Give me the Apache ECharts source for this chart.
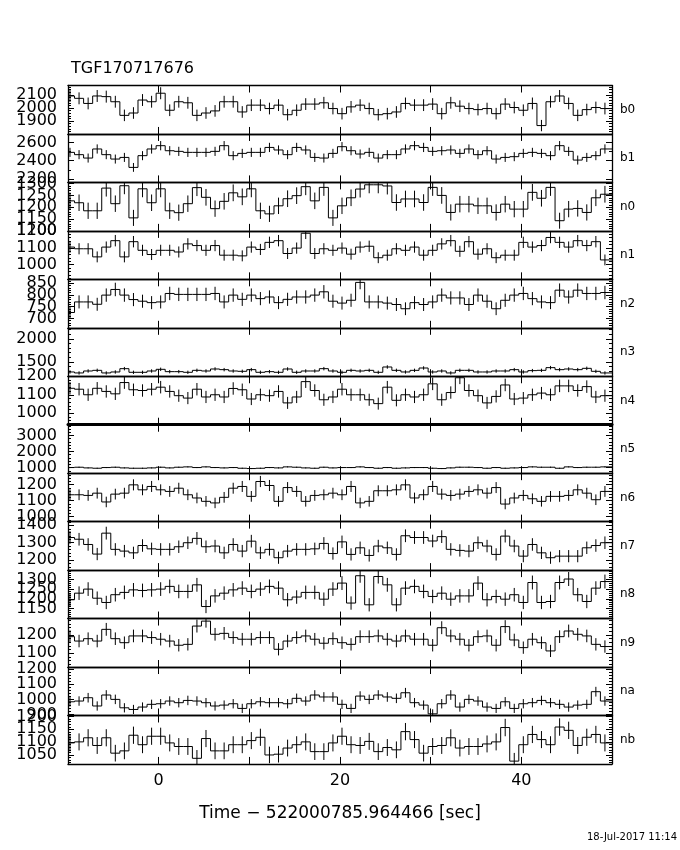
<!DOCTYPE html>
<html><head><meta charset="utf-8">
<script src="https://cdn.jsdelivr.net/npm/echarts@6/dist/echarts.min.js"></script>
<style>html,body{margin:0;padding:0;background:#fff}#c{width:680px;height:850px}</style>
</head><body><div id="c"></div>
<script>
// ---- data (counts per 1 s bin) ----
const binStart = -10.28;   // left edge of the first bin [s]
const binWidth = 1;        // [s]
const b0 = [2092,2074,2035,2092,2087,2048,1944,1962,2061,2048,2113,1983,2048,2040,1944,1962,1978,2048,2048,1970,2022,2022,1996,2022,1949,1983,2030,2030,2040,1996,
            1957,2009,2022,1996,1949,1957,1970,2035,2022,2022,2030,1957,2040,2014,1996,1988,1996,1957,2030,2004,1983,2035,1866,2048,2092,2035,1944,1988,2004,1996];
const b1 = [2491,2466,2429,2528,2466,2418,2436,2327,2455,2528,2564,2509,2502,2491,2491,2491,2502,2564,2455,2480,2491,2491,2545,2517,2466,2545,2517,2436,2429,2480,
            2553,2509,2473,2491,2429,2466,2466,2528,2564,2545,2502,2509,2517,2480,2528,2466,2509,2418,2436,2444,2480,2491,2480,2455,2564,2502,2407,2436,2455,2528];
const n0 = [1227,1219,1185,1185,1281,1215,1291,1155,1278,1219,1278,1185,1177,1215,1283,1242,1194,1225,1261,1244,1278,1185,1172,1206,1236,1249,1287,1227,1284,1155,
            1206,1240,1277,1295,1295,1290,1220,1235,1235,1220,1284,1250,1178,1213,1213,1206,1206,1178,1213,1192,1192,1263,1238,1284,1143,1192,1195,1178,1240,1255];
const n1 = [1104,1094,1094,1046,1104,1142,1046,1136,1085,1060,1085,1085,1075,1123,1113,1085,1113,1056,1056,1052,1104,1090,1132,1142,1066,1098,1186,1066,1094,1085,
            1098,1062,1104,1109,1041,1056,1094,1085,1104,1056,1085,1123,1142,1079,1136,1062,1094,1041,1056,1056,1132,1104,1113,1161,1132,1104,1142,1113,1136,1028];
const n2 = [725,770,770,760,799,823,799,780,773,767,770,806,802,802,802,802,806,770,799,781,799,784,791,767,781,791,791,799,813,773,
            765,777,853,770,770,765,759,741,767,759,770,799,787,787,759,799,773,741,777,799,806,784,770,767,820,791,820,806,806,810];
const n3 = [1287,1266,1308,1322,1266,1287,1358,1280,1280,1308,1344,1294,1294,1280,1322,1308,1351,1337,1308,1301,1337,1280,1294,1280,1351,1280,1308,1308,1358,1308,
            1280,1322,1308,1322,1280,1394,1322,1287,1322,1372,1287,1308,1266,1322,1322,1287,1287,1308,1308,1337,1287,1316,1322,1380,1337,1351,1337,1365,1301,1266];
const n4 = [1135,1130,1100,1135,1118,1105,1166,1127,1123,1130,1141,1118,1095,1082,1130,1088,1100,1088,1134,1127,1077,1100,1095,1118,1056,1088,1171,1123,1073,1088,
            1130,1100,1100,1073,1052,1141,1070,1100,1088,1100,1159,1073,1112,1192,1123,1095,1056,1091,1153,1077,1082,1100,1109,1100,1148,1148,1123,1144,1088,1095];
const n5 = [1000,1021,979,958,1000,1021,979,958,958,979,1021,979,1021,1042,1000,1042,1000,979,1000,958,938,958,1000,979,1042,1021,979,958,1021,979,
            1000,1000,1042,1000,958,1000,958,979,1000,1000,958,938,979,1021,1021,1000,958,1000,958,979,1000,1042,1021,1021,958,1042,1000,1021,1021,1042];
const n6 = [1137,1137,1133,1147,1092,1141,1147,1199,1168,1189,1168,1158,1178,1137,1117,1096,1086,1121,1178,1189,1127,1220,1195,1096,1182,1158,1096,1133,1137,1147,
            1137,1189,1086,1096,1162,1162,1168,1199,1117,1137,1189,1141,1133,1141,1158,1168,1147,1182,1079,1117,1133,1112,1096,1127,1127,1133,1168,1147,1106,1158];
const n7 = [1330,1320,1290,1235,1355,1262,1252,1242,1284,1265,1262,1262,1277,1300,1325,1277,1281,1242,1290,1252,1309,1242,1262,1214,1252,1262,1262,1265,1296,1238,
            1305,1233,1271,1227,1281,1271,1233,1340,1330,1330,1310,1335,1262,1256,1252,1300,1281,1233,1338,1281,1223,1290,1242,1214,1223,1223,1223,1271,1284,1300];
const n8 = [1195,1229,1250,1203,1181,1221,1233,1246,1243,1246,1250,1264,1238,1238,1272,1160,1215,1229,1246,1255,1238,1250,1264,1255,1195,1209,1233,1233,1198,1250,
            1281,1178,1319,1169,1315,1272,1169,1255,1264,1238,1212,1229,1198,1215,1215,1281,1195,1212,1198,1221,1181,1284,1181,1186,1284,1302,1221,1186,1255,1289];
const n9 = [1191,1167,1180,1167,1231,1180,1158,1195,1195,1186,1177,1167,1144,1149,1249,1276,1204,1209,1186,1177,1177,1186,1186,1122,1167,1186,1195,1177,1155,1180,
            1158,1149,1191,1191,1195,1177,1167,1195,1177,1177,1144,1240,1195,1177,1144,1191,1195,1144,1246,1173,1131,1177,1158,1113,1191,1222,1204,1195,1149,1137];
const na = [984,989,1011,956,1029,1000,944,933,949,967,971,989,978,993,989,978,956,962,971,940,971,984,978,978,971,1007,989,1029,1016,1016,
            967,940,1022,1000,1029,1016,1007,1044,978,962,904,971,1029,949,1000,989,949,940,984,940,971,978,993,978,967,949,962,967,1051,989];
const nb = [1097,1101,1117,1087,1117,1057,1066,1127,1090,1123,1123,1097,1083,1083,1037,1114,1066,1066,1090,1090,1106,1119,1050,1053,1077,1090,1101,1063,1063,1097,
            1123,1090,1087,1103,1063,1079,1070,1141,1110,1057,1083,1087,1117,1077,1083,1083,1093,1101,1157,1026,1090,1130,1110,1090,1159,1146,1087,1119,1130,1097];

const panelNames = ['b0','b1','n0','n1','n2','n3','n4','n5','n6','n7','n8','n9','na','nb'];
const panelData  = [b0,b1,n0,n1,n2,n3,n4,n5,n6,n7,n8,n9,na,nb];
const panelRanges = [[1802,2172],[2163,2692],[1100,1305],[913,1200],[660,866],[1195,2235],[938,1200],
                     [650,3669],[969,1272],[1143,1421],[1098,1348],[1025,1290],[893,1215],[1015,1204]];
const panelTicks = [[1900,2000,2100],[2200,2400,2600],[1100,1150,1200,1250,1300],[1000,1100,1200],[700,750,800,850],
                    [1500,2000],[1000,1100,1200],[1000,2000,3000],[1000,1100,1200],[1200,1300,1400],
                    [1150,1200,1250,1300],[1100,1200],[900,1000,1100,1200],[1050,1100,1150,1200]];
const panelMinorStep = [20,100,10,20,10,100,20,200,20,20,10,20,20,10];
const xRange = [-10, 50];
const xTickLabels = [0, 20, 40];
const titleText = 'TGF170717676';
const xTitle = 'Time \u2212 522000785.964466 [sec]';
const stampText = '18-Jul-2017 11:14';

// ---- layout ----
const GL = 68, GW = 544, GT = 85.5, GH = 48.46;
const FONT = 'DejaVu Sans';
const black = '#000';

const chart = echarts.init(document.getElementById('c'), null, {renderer: 'canvas'});
const grids = [], xAxes = [], yAxes = [], series = [];

function minorValues(r, step) {
  const out = [];
  for (let v = Math.ceil(r[0] / step) * step; v <= r[1]; v += step) out.push(v);
  return out;
}

panelData.forEach((vals, i) => {
  const last = i === panelData.length - 1;
  grids.push({left: GL, top: GT + i * GH, width: GW, height: GH});
  const frameW = (i === 7) ? 3 : 1.3;
  const xBase = {
    gridIndex: i, type: 'value', min: xRange[0], max: xRange[1], interval: 10,
    axisLine: {show: true, onZero: false, lineStyle: {color: black, width: 1.3}},
    axisTick: {show: true, inside: true, length: 7, lineStyle: {color: black, width: 1}},
    splitLine: {show: false}
  };
  xAxes.push(Object.assign({}, xBase, {
    position: 'bottom',
    axisLabel: {show: last, margin: 9, color: black, fontFamily: FONT, fontSize: 16, interval: 0,
                formatter: v => xTickLabels.includes(v) ? String(v) : ''},
    name: last ? xTitle : '', nameLocation: 'middle', nameGap: 41,
    nameTextStyle: {color: black, fontFamily: FONT, fontSize: 17}
  }));
  xAxes.push(Object.assign({}, xBase, {
    position: 'top', axisLabel: {show: false},
    axisLine: {show: true, onZero: false, lineStyle: {color: black, width: frameW}}
  }));
  const r = panelRanges[i];
  const minors = minorValues(r, panelMinorStep[i]);
  const yBase = {gridIndex: i, type: 'value', min: r[0], max: r[1], splitLine: {show: false}};
  const mainIndex = yAxes.length;
  // left frame + major ticks
  yAxes.push(Object.assign({}, yBase, {
    position: 'left',
    axisLine: {show: true, onZero: false, lineStyle: {color: black, width: 1.3}},
    axisTick: {show: true, inside: true, length: 6, customValues: panelTicks[i], lineStyle: {color: black, width: 1}},
    axisLabel: {show: false}
  }));
  // left minor ticks
  yAxes.push(Object.assign({}, yBase, {
    position: 'left', axisLine: {show: false, onZero: false},
    axisTick: {show: true, inside: true, length: 3, customValues: minors, lineStyle: {color: black, width: 1}},
    axisLabel: {show: false}
  }));
  // right frame + major ticks + panel name
  yAxes.push(Object.assign({}, yBase, {
    position: 'right',
    axisLine: {show: true, onZero: false, lineStyle: {color: black, width: 1.3}},
    axisTick: {show: true, inside: true, length: 6, customValues: panelTicks[i], lineStyle: {color: black, width: 1}},
    axisLabel: {show: false},
    name: panelNames[i], nameLocation: 'middle', nameRotate: 0, nameGap: 8,
    nameTextStyle: {color: black, fontFamily: FONT, fontSize: 12, align: 'left'}
  }));
  // right minor ticks
  yAxes.push(Object.assign({}, yBase, {
    position: 'right', axisLine: {show: false, onZero: false},
    axisTick: {show: true, inside: true, length: 3, customValues: minors, lineStyle: {color: black, width: 1}},
    axisLabel: {show: false}
  }));
  // tick labels: split into two label-only axes (alternate values) so none is dropped for crowding
  [0, 1].forEach(par => {
    const vs = panelTicks[i].filter((v, j) => j % 2 === par);
    if (!vs.length) return;
    yAxes.push(Object.assign({}, yBase, {
      position: 'left', axisLine: {show: false, onZero: false}, axisTick: {show: false},
      axisLabel: {show: true, customValues: vs, margin: 11, color: black, fontFamily: FONT, fontSize: 16,
                  hideOverlap: false, showMinLabel: true, showMaxLabel: true, formatter: v => String(v)}
    }));
  });

  const data = vals.map((v, k) => [binStart + binWidth * (k + 0.5), v, Math.sqrt(v)]); // Poisson errors
  series.push({
    type: 'custom', xAxisIndex: 2 * i, yAxisIndex: mainIndex, clip: true, silent: true, animation: false,
    data: data,
    renderItem: function (params, api) {
      const k = params.dataIndex;
      const c = api.value(0), v = api.value(1), e = api.value(2);
      const cs = params.coordSys;
      const st = {stroke: black, lineWidth: 1, fill: null};
      let xL = api.coord([c - binWidth / 2, v])[0];
      let xR = api.coord([c + binWidth / 2, v])[0];
      if (k === vals.length - 1) xR = cs.x + cs.width;
      xL = Math.max(xL, cs.x); xR = Math.min(xR, cs.x + cs.width);
      const p = api.coord([c, v]);
      const ch = [{type: 'line', shape: {x1: xL, y1: p[1], x2: xR, y2: p[1]}, style: st}];
      if (k > 0) {
        const yp = api.coord([c, vals[k - 1]])[1];
        ch.push({type: 'line', shape: {x1: xL, y1: yp, x2: xL, y2: p[1]}, style: st});
      }
      if (p[0] > cs.x) {
        const yt = api.coord([c, v + e])[1], yb = api.coord([c, v - e])[1];
        ch.push({type: 'line', shape: {x1: p[0], y1: yt, x2: p[0], y2: yb}, style: st});
      }
      return {type: 'group', children: ch};
    }
  });
});

chart.setOption({
  animation: false,
  backgroundColor: '#fff',
  title: {text: titleText, left: 66, top: 56,
          textStyle: {color: black, fontFamily: FONT, fontSize: 16, fontWeight: 'normal'}},
  graphic: [{type: 'text', right: 3, top: 832,
             style: {text: stampText, fill: black, font: '10px "' + FONT + '"'}}],
  grid: grids, xAxis: xAxes, yAxis: yAxes, series: series
});
</script></body></html>
